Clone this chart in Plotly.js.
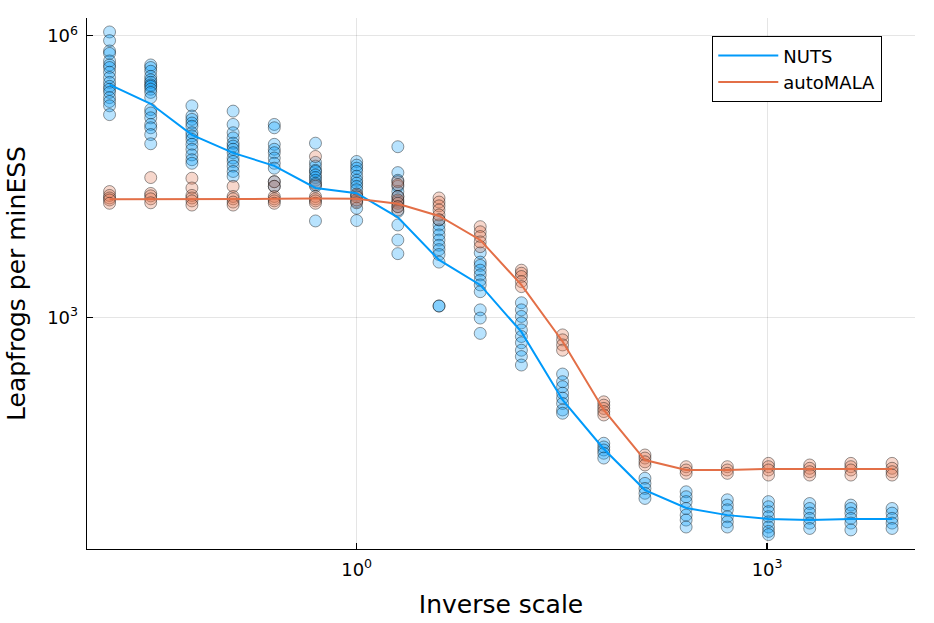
<!DOCTYPE html>
<html>
<head>
<meta charset="utf-8">
<script src="https://cdn.plot.ly/plotly-3.0.1.min.js"></script>
<style>
  html, body { margin: 0; padding: 0; background: #fff; }
  #plot { width: 934px; height: 623px; }
</style>
</head>
<body>
<div id="plot"></div>
<script>
// inverse scale values (powers of two)
var scales = [0.015625, 0.03125, 0.0625, 0.125, 0.25, 0.5, 1, 2, 4, 8,
              16, 32, 64, 128, 256, 512, 1024, 2048, 4096, 8192];

// mean leapfrogs per minESS (the lines)
var nutsMean = [3.03e5, 1.89e5, 8.83e4, 5.68e4, 4.13e4, 2.40e4, 2.11e4, 1.17e4, 4110, 2230,
                705, 133, 40, 14.6, 9.4, 7.9, 7.2, 7.0, 7.2, 7.2];
var autoMean = [1.82e4, 1.82e4, 1.82e4, 1.82e4, 1.84e4, 1.86e4, 1.84e4, 1.63e4, 1.21e4, 6720,
                2230, 558, 104, 30.5, 23.9, 23.9, 24.5, 24.5, 24.5, 24.5];

// individual runs, one list per scale
var nutsRuns = [
  [1.1e6, 8.9e5, 6.9e5, 6.5e5, 5.4e5, 4.9e5, 4.6e5, 4.1e5, 3.6e5, 3.2e5, 2.9e5, 2.7e5, 2.5e5, 2.2e5, 2.0e5, 1.8e5, 1.45e5],
  [4.9e5, 4.6e5, 4.2e5, 3.7e5, 3.4e5, 3.2e5, 3.0e5, 2.9e5, 2.7e5, 2.5e5, 2.2e5, 1.64e5, 1.51e5, 1.34e5, 1.14e5, 1.05e5, 8.9e4, 7.1e4],
  [1.8e5, 1.4e5, 1.29e5, 1.18e5, 1.09e5, 9.3e4, 8.6e4, 7.9e4, 7.0e4, 6.2e4, 5.4e4, 4.8e4, 4.4e4],
  [1.58e5, 1.14e5, 9.3e4, 8.2e4, 7.2e4, 6.7e4, 6.2e4, 5.7e4, 5.0e4, 4.6e4, 4.1e4, 3.6e4, 3.2e4],
  [1.14e5, 1.05e5, 7.0e4, 6.2e4, 5.7e4, 5.0e4, 4.4e4, 3.9e4, 2.8e4, 2.5e4],
  [7.2e4, 4.5e4, 4.1e4, 3.7e4, 3.6e4, 3.3e4, 3.1e4, 2.9e4, 2.7e4, 2.5e4, 1.07e4],
  [4.6e4, 4.2e4, 3.9e4, 3.6e4, 3.2e4, 2.9e4, 2.7e4, 2.5e4, 2.3e4, 2.0e4, 1.72e4, 1.46e4, 1.08e4],
  [6.6e4, 3.5e4, 2.9e4, 2.5e4, 2.2e4, 1.95e4, 1.72e4, 1.52e4, 1.35e4, 9.7e3, 6.7e3, 4.8e3],
  [1.1e4, 9.7e3, 8.6e3, 7.6e3, 6.7e3, 5.9e3, 5.3e3, 4.7e3, 3.9e3, 1.33e3, 1.33e3],
  [4.9e3, 3.9e3, 3.6e3, 3.2e3, 2.85e3, 2.5e3, 2.23e3, 1.89e3, 1.21e3, 990, 680],
  [1440, 1210, 1030, 880, 740, 630, 540, 450, 385, 313],
  [251, 208, 184, 157, 139, 122, 104, 96],
  [46, 42, 39, 36, 32],
  [19.5, 17.2, 15.2, 13.5, 11.9],
  [14.0, 12.4, 11.0, 9.3, 7.9, 7.0, 5.9],
  [11.5, 10.1, 9.0, 7.6, 6.7, 5.9],
  [11.0, 9.7, 8.6, 7.6, 6.7, 5.9, 5.3, 4.9],
  [10.5, 9.3, 8.3, 7.3, 6.5, 5.7],
  [10.1, 9.3, 8.3, 7.3, 6.5, 5.5],
  [9.3, 8.3, 7.3, 6.5, 5.7]
];
var autoRuns = [
  [2.2e4, 2.0e4, 1.88e4, 1.79e4, 1.65e4],
  [3.1e4, 2.1e4, 1.98e4, 1.84e4, 1.67e4],
  [3.05e4, 2.4e4, 2.0e4, 1.88e4, 1.75e4, 1.58e4],
  [2.5e4, 1.95e4, 1.84e4, 1.7e4, 1.58e4],
  [2.8e4, 2.5e4, 1.95e4, 1.84e4, 1.75e4, 1.65e4],
  [5.2e4, 2.6e4, 1.95e4, 1.84e4, 1.75e4, 1.65e4],
  [2.07e4, 1.93e4, 1.79e4, 1.67e4],
  [2.8e4, 2.6e4, 1.95e4, 1.79e4, 1.65e4, 1.52e4, 1.4e4],
  [1.88e4, 1.7e4, 1.55e4, 1.4e4, 1.24e4, 1.1e4],
  [9.3e3, 8.2e3, 7.3e3, 6.4e3, 5.7e3],
  [3.2e3, 2.97e3, 2.74e3, 2.42e3, 2.14e3],
  [655, 580, 512, 450],
  [127, 117, 108, 100, 92],
  [34.5, 32, 29.2, 27],
  [25.9, 23.9, 22.0],
  [25.9, 23.9, 22.0],
  [28.1, 25.9, 23.9, 21.1],
  [27, 24.9, 22.9, 21.1],
  [28.1, 25.9, 23.9, 21.1],
  [28.1, 24.9, 22.9, 21.1]
];

var xTicks = [1, 1000];
var xTickText = ['10<sup>0</sup>', '10<sup>3</sup>'];
var yTicks = [1000, 1000000];
var yTickText = ['10<sup>3</sup>', '10<sup>6</sup>'];

var blue = '#009AFA';
var orange = '#E36F47';
var font = 'DejaVu Sans, sans-serif';

function flatten(runs) {
  var xs = [], ys = [];
  runs.forEach(function (list, i) {
    list.forEach(function (v) { xs.push(scales[i]); ys.push(v); });
  });
  return {x: xs, y: ys};
}

function runsTrace(runs, rgba) {
  var pts = flatten(runs);
  return {
    x: pts.x, y: pts.y,
    type: 'scatter', mode: 'markers', showlegend: false, hoverinfo: 'skip',
    marker: {size: 12, color: rgba, line: {color: 'rgba(0,0,0,0.4)', width: 1}}
  };
}

var data = [
  runsTrace(nutsRuns, 'rgba(0,154,250,0.28)'),
  runsTrace(autoRuns, 'rgba(227,111,71,0.28)'),
  {x: scales, y: nutsMean, type: 'scatter', mode: 'lines', name: 'NUTS',
   line: {color: blue, width: 2}},
  {x: scales, y: autoMean, type: 'scatter', mode: 'lines', name: 'autoMALA',
   line: {color: orange, width: 2}}
];

var axisCommon = {
  type: 'log',
  showline: true, linecolor: '#000', linewidth: 1.3, mirror: false,
  ticks: 'inside', ticklen: 6, tickwidth: 1.2, tickcolor: '#000',
  showgrid: true, gridcolor: 'rgba(0,0,0,0.1)', gridwidth: 1,
  zeroline: false, ticklabelstandoff: 4,
  tickfont: {family: font, size: 18, color: '#000'}
};

var layout = {
  width: 934, height: 623,
  margin: {l: 87, r: 19, t: 18, b: 74},
  paper_bgcolor: '#fff', plot_bgcolor: '#fff',
  font: {family: font, color: '#000'},
  xaxis: Object.assign({}, axisCommon, {
    range: [-1.971, 4.081],
    tickvals: xTicks, ticktext: xTickText,
    title: {text: 'Inverse scale', font: {family: font, size: 25}, standoff: 16}
  }),
  yaxis: Object.assign({}, axisCommon, {
    range: [0.537, 6.19],
    tickvals: yTicks, ticktext: yTickText,
    title: {text: 'Leapfrogs per minESS', font: {family: font, size: 25}, standoff: 14}
  }),
  legend: {
    x: 0.7548, y: 0.966, xanchor: 'left', yanchor: 'top',
    bgcolor: '#fff', bordercolor: '#000', borderwidth: 1.3,
    font: {family: font, size: 18, color: '#000'},
    itemwidth: 60, tracegroupgap: 0
  },
  showlegend: true
};

Plotly.newPlot('plot', data, layout, {displayModeBar: false, staticPlot: true});
</script>
</body>
</html>
